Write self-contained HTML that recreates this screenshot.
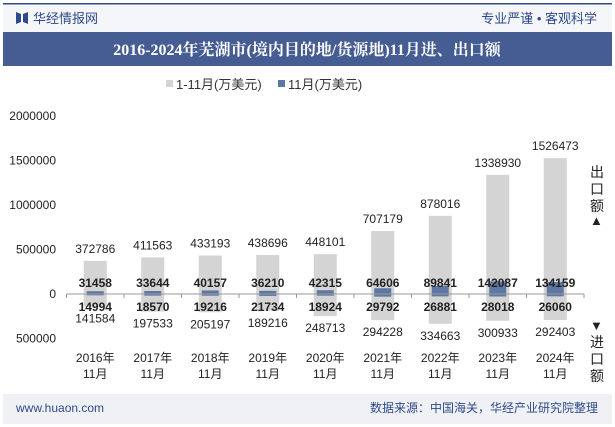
<!DOCTYPE html>
<html><head><meta charset="utf-8">
<style>
body{margin:0;width:615px;height:427px;overflow:hidden;background:#fff;font-family:"Liberation Sans","Noto Sans CJK SC",sans-serif;}
</style></head>
<body>
<svg width="615" height="427" xmlns="http://www.w3.org/2000/svg" style="position:absolute;left:0;top:0" font-family="Liberation Sans, Noto Sans CJK SC, sans-serif">
<rect x="3" y="3" width="609" height="29" fill="#f5f6fa"/>
<rect x="3" y="3" width="609" height="1.5" fill="#2e4a8a"/>
<path d="M16 12 L21 14 L21 22 L16 24 Z M23 14 L28 12 L28 24 L23 22 Z" fill="#2e4a8a"/>
<text x="33" y="23" font-size="13" fill="#2e4a8a">华经情报网</text>
<text x="597" y="23" font-size="13" fill="#2e4a8a" text-anchor="end">专业严谨 • 客观科学</text>
<rect x="3" y="32" width="609" height="34" fill="#465d93"/>
<text x="307" y="55" font-size="16" font-weight="bold" fill="#fff" text-anchor="middle" font-family="Liberation Serif, Noto Serif CJK SC, serif">2016-2024年芜湖市(境内目的地/货源地)11月进、出口额</text>
<g>
<rect x="166" y="80" width="7" height="7" fill="#d4d4d4"/>
<text x="176" y="89" font-size="13" fill="#333">1-11月(万美元)</text>
<rect x="278" y="80" width="7" height="7" fill="#5f77a3"/>
<text x="288" y="89" font-size="13" fill="#333">11月(万美元)</text>
</g>
<g id="axes"></g>
<g id="bars"></g>
<text font-size="14" fill="#222"><tspan x="590" y="177">出</tspan><tspan x="590" y="194">口</tspan><tspan x="590" y="211">额</tspan></text>
<text x="590" y="225" font-size="13" fill="#222">▲</text>
<text x="590" y="330" font-size="13" fill="#222">▼</text>
<text font-size="14" fill="#222"><tspan x="590" y="347">进</tspan><tspan x="590" y="364">口</tspan><tspan x="590" y="381">额</tspan></text>
<rect x="3" y="394" width="609" height="30" fill="#f0f1f4"/>
<text x="16" y="412" font-size="12" fill="#2e4a8a">www.huaon.com</text>
<text x="598" y="412" font-size="12" fill="#2e4a8a" text-anchor="end">数据来源：中国海关，华经产业研究院整理</text>
</svg>
<script>
const categories=["2016年","2017年","2018年","2019年","2020年","2021年","2022年","2023年","2024年"];
const exportYTD=[372786,411563,433193,438696,448101,707179,878016,1338930,1526473];
const exportMonth=[31458,33644,40157,36210,42315,64606,89841,142087,134159];
const importYTD=[141584,197533,205197,189216,248713,294228,334663,300933,292403];
const importMonth=[14994,18570,19216,21734,18924,29792,26881,28018,26060];
const yTicks=[2000000,1500000,1000000,500000,0,-500000];
const NS="http://www.w3.org/2000/svg";
const x0=66.5,step=57.5,zeroY=294,pxPer=178/2000000;
const y=v=>zeroY-v*pxPer;
const cx=i=>x0+step*(i+0.5);
function mk(tag,attrs,parent){const e=document.createElementNS(NS,tag);for(const k in attrs)e.setAttribute(k,attrs[k]);parent.appendChild(e);return e;}
const ax=document.getElementById('axes'),bg=document.getElementById('bars');
yTicks.forEach(t=>{const e=mk('text',{x:56,y:y(t)+4,'font-size':12,fill:'#222','text-anchor':'end'},ax);


e.textContent=Math.abs(t);});
categories.forEach((c,i)=>{
 const g1=mk('rect',{x:cx(i)-11.5,y:y(exportYTD[i]),width:23,height:(exportYTD[i]+importYTD[i])*pxPer,fill:'#d4d4d4'},bg);
 
 
 const b1=mk('rect',{x:cx(i)-8.5,y:y(exportMonth[i]),width:17,height:(exportMonth[i]+importMonth[i])*pxPer,fill:'#5f77a3'},bg);
 
 
 const labs=[[exportYTD[i],y(exportYTD[i])-8,'normal'],[exportMonth[i],287,'bold'],[importMonth[i],311,'bold'],[importYTD[i],y(-importYTD[i])+16,'normal']];
 labs.forEach(l=>{const t=mk('text',{x:cx(i),y:l[1],'font-size':12,'font-weight':l[2],fill:'#222','text-anchor':'middle'},bg);
 
 
 t.textContent=l[0];});
 const xl=mk('text',{x:cx(i),y:362,'font-size':12,fill:'#222','text-anchor':'middle'},ax);
 
 
 xl.innerHTML='<tspan x="'+cx(i)+'" dy="0">'+c+'</tspan><tspan x="'+cx(i)+'" dy="16">11月</tspan>';
});
const ln=mk('line',{x1:x0,x2:x0+step*9,y1:zeroY,y2:zeroY,stroke:'#999','stroke-width':1},bg);


for(let i=0;i<=9;i++){const tk=mk('line',{x1:x0+step*i,x2:x0+step*i,y1:zeroY,y2:zeroY+4,stroke:'#999'},bg);

}
</script>
</body></html>
